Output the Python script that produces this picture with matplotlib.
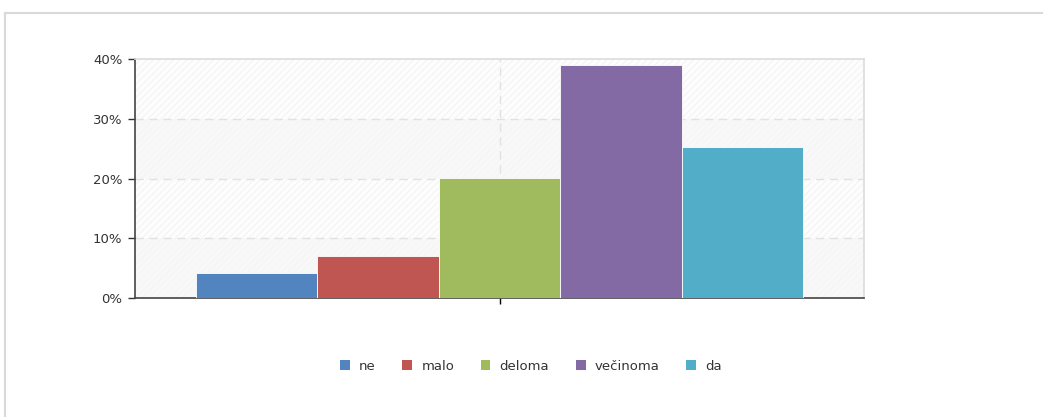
import numpy as np
import matplotlib
matplotlib.use("Agg")
from matplotlib import pyplot as plt
from matplotlib.patches import Rectangle, Patch
from matplotlib.lines import Line2D
from matplotlib.ticker import FuncFormatter

labels = ["ne", "malo", "deloma", "večinoma", "da"]
values = [4.2, 7.0, 20.1, 39.0, 25.2]
colors = ["#5285c0", "#c05651", "#9fbb5e", "#836aa5", "#52aec8"]
yticks = [0, 10, 20, 30, 40]

plt.rcParams["font.family"] = "DejaVu Sans"
plt.rcParams["hatch.linewidth"] = 0.5
plt.rcParams["hatch.color"] = "#ececec"

fig = plt.figure(figsize=(10.43, 4.17), dpi=100)
ax = fig.add_axes([135/1043, 119/417, 729/1043, 239/417])

# outer frame (top and left edges only)
fig.add_artist(Line2D([4.5/1043, 4.5/1043], [0, 1 - 12.5/417], transform=fig.transFigure, color="#d9d9d9", lw=1.5))
fig.add_artist(Line2D([4.5/1043, 1], [1 - 12.5/417, 1 - 12.5/417], transform=fig.transFigure, color="#d9d9d9", lw=1.5))

ax.set_xlim(-0.5, 0.5)
ax.set_ylim(0, 40)

# striped plot background with alternating bands
ax.set_facecolor("#fdfdfd")
ax.add_patch(Rectangle((0, 0), 1, 1, transform=ax.transAxes, facecolor="none",
                       edgecolor="#efefef", hatch="/////", lw=0, zorder=0))
for lo in (0, 20):
    ax.axhspan(lo, lo + 10, color="#f6f6f6", alpha=0.7, lw=0, zorder=0)

for y in yticks[1:-1]:
    ax.axhline(y, color="#e2e2e2", lw=1, ls=(0, (6, 4)), zorder=1)
ax.axvline(0, color="#e2e2e2", lw=1, ls=(0, (6, 4)), zorder=1)

width = 1 / 6
n = len(values)
xs = (np.arange(n) - (n - 1) / 2) * width
ax.bar(xs, values, width=width, color=colors, edgecolor="#ffffff", linewidth=0.6, zorder=3)

ax.set_yticks(yticks)
ax.yaxis.set_major_formatter(FuncFormatter(lambda v, p: f"{v:.0f}%"))
ax.set_xticks([0])
ax.set_xticklabels([""])
ax.tick_params(axis="y", length=5, width=1, color="#333333", pad=4, labelsize=9.5, labelcolor="#333333")
ax.tick_params(axis="x", length=4, width=1, color="#000000")

for s in ("top", "right"):
    ax.spines[s].set_color("#dcdcdc")
    ax.spines[s].set_linewidth(1.2)
for s in ("left", "bottom"):
    ax.spines[s].set_color("#444444")
    ax.spines[s].set_linewidth(1.2)

handles = [Patch(facecolor=c, edgecolor="none") for c in colors]
fig.legend(handles, labels, loc="center", bbox_to_anchor=(0.509, 1 - 366/417), ncol=n,
           frameon=False, fontsize=9.5, handlelength=0.75, handleheight=0.75,
           handletextpad=0.7, columnspacing=2.0, labelcolor="#333333")

fig.savefig("out.png", dpi=100)
